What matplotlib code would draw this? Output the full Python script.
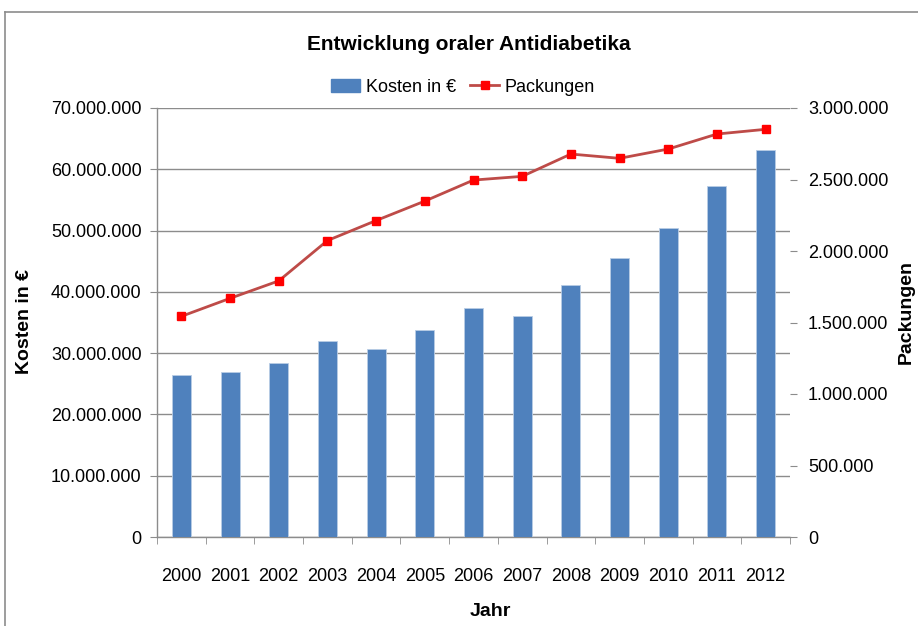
import matplotlib
matplotlib.use("Agg")
import matplotlib.pyplot as plt
from matplotlib.ticker import FuncFormatter, FixedLocator
from matplotlib.lines import Line2D
from matplotlib.patches import Patch

plt.rcParams['font.family'] = ['Liberation Sans', 'DejaVu Sans']

years = ['2000', '2001', '2002', '2003', '2004', '2005', '2006',
         '2007', '2008', '2009', '2010', '2011', '2012']
kosten = [26.5e6, 27.0e6, 28.4e6, 32.0e6, 30.7e6, 33.7e6, 37.3e6,
          36.0e6, 41.2e6, 45.6e6, 50.4e6, 57.2e6, 63.1e6]
packungen = [1.543e6, 1.669e6, 1.791e6, 2.073e6, 2.213e6, 2.349e6, 2.496e6,
             2.522e6, 2.678e6, 2.648e6, 2.713e6, 2.818e6, 2.851e6]
left_ticks = [0, 10e6, 20e6, 30e6, 40e6, 50e6, 60e6, 70e6]
right_ticks = [0, 500e3, 1.0e6, 1.5e6, 2.0e6, 2.5e6, 3.0e6]

W, H = 918, 626
fig = plt.figure(figsize=(W / 100, H / 100), dpi=100)
ax = fig.add_axes([157 / W, 1 - 537 / H, (790 - 157) / W, (537 - 108) / H])
ax2 = ax.twinx()

def dotfmt(v, pos=None):
    return f"{int(round(v)):,}".replace(",", ".")

bar_color = '#4F81BD'
line_color = '#BE4B48'
grid_color = '#8C8C8C'
x = list(range(len(years)))

ax.bar(x, kosten, width=0.39, color=bar_color, edgecolor='#B9CDE5', linewidth=0.6, zorder=3)
ax.set_ylim(0, 70e6)
ax.set_xlim(-0.5, len(years) - 0.5)
ax.yaxis.set_major_locator(FixedLocator(left_ticks))
ax.yaxis.set_major_formatter(FuncFormatter(dotfmt))
ax.grid(axis='y', color=grid_color, linewidth=1.0, zorder=0)
ax.set_axisbelow(True)
ax.set_xticks(x)
ax.set_xticklabels(years)
ax.set_xticks([i + 0.5 for i in range(-1, len(years))], minor=True)
ax.tick_params(axis='x', which='major', length=0, pad=22, labelsize=13, colors='#000000')
ax.tick_params(axis='x', which='minor', length=5, color=grid_color, direction='out')
ax.tick_params(axis='y', length=5, color=grid_color, labelsize=13, pad=6)
for s in ['top', 'right']:
    ax.spines[s].set_visible(False)
for s in ['left', 'bottom']:
    ax.spines[s].set_color(grid_color)
    ax.spines[s].set_linewidth(1.0)

ax2.plot(x, packungen, color=line_color, linewidth=2, marker='s', markersize=6,
         markerfacecolor='#FF0000', markeredgecolor='#FF0000', zorder=4)
ax2.set_ylim(0, 3.0e6)
ax2.yaxis.set_major_locator(FixedLocator(right_ticks))
ax2.yaxis.set_major_formatter(FuncFormatter(dotfmt))
ax2.tick_params(axis='y', length=5, color=grid_color, labelsize=13, pad=8)
for s in ['top', 'right', 'left', 'bottom']:
    ax2.spines[s].set_visible(False)

fig.text(25 / W, 1 - 322 / H, 'Kosten in €', rotation=90, ha='center', va='center',
         fontsize=14, fontweight='bold')
fig.text(906 / W, 1 - 312 / H, 'Packungen', rotation=90, ha='center', va='center',
         fontsize=14, fontweight='bold')
fig.text(490 / W, 1 - 611 / H, 'Jahr', ha='center', va='center',
         fontsize=14, fontweight='bold')

fig.text(0.5 * (305 + 633) / W, 1 - 45 / H, 'Entwicklung oraler Antidiabetika',
         ha='center', va='center', fontsize=15, fontweight='bold')

handles = [Patch(facecolor=bar_color, edgecolor=bar_color),
           Line2D([0], [0], color=line_color, linewidth=2, marker='s', markersize=6,
                  markerfacecolor='#FF0000', markeredgecolor='#FF0000')]
fig.legend(handles, ['Kosten in €', 'Packungen'], loc='center', ncol=2,
           bbox_to_anchor=(463 / W, 1 - 87 / H), frameon=False, fontsize=13,
           handlelength=1.6, handletextpad=0.3, columnspacing=0.8)

# outer chart border (cropped)
fig.add_artist(Line2D([5 / W, 1], [1 - 12 / H, 1 - 12 / H], color='#8C8C8C', linewidth=1.2))
fig.add_artist(Line2D([5 / W, 5 / W], [0, 1 - 12 / H], color='#8C8C8C', linewidth=1.2))

fig.savefig('out.png', dpi=100)
